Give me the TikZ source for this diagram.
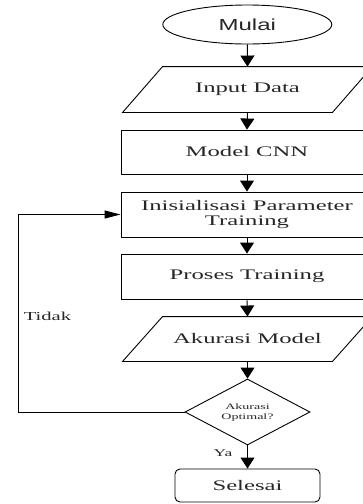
\documentclass[tikz,border=0pt]{standalone}
\usepackage{fontspec}
\setmainfont{Liberation Serif}[FakeStretch=1.69]
\newfontfamily\headsans{Liberation Sans}[FakeStretch=1.5]
\usetikzlibrary{shapes.geometric,arrows.meta}

\tikzset{
  box/.style={draw, rectangle, minimum width=252pt, minimum height=45pt,
    inner sep=0pt, align=center},
  io/.style={rectangle, minimum width=209pt, minimum height=45pt, inner sep=0pt},
  term/.style={draw, ellipse, minimum width=169pt, minimum height=39pt,
    inner sep=0pt, font=\headsans\fontsize{16}{16}\selectfont},
  decision/.style={draw, diamond, aspect=1.9, minimum width=125pt,
    minimum height=66pt, inner sep=0pt, align=center,
    font=\fontsize{8.3}{10}\selectfont},
  endbox/.style={draw, rounded corners=5pt, minimum width=145pt,
    minimum height=33pt, inner sep=0pt},
  down/.style={-{Triangle[length=11pt,width=14pt]}},
  sidearrow/.style={-{Triangle[length=16pt,width=8pt]}},
  every node/.style={text=black!85},
}

\begin{document}
\begin{tikzpicture}[x=1pt, y=-1pt, line width=0.9pt,
    font=\fontsize{14.6}{14.6}\selectfont]
  \useasboundingbox (0,0) rectangle (363,504);
  \clip (0,0) rectangle (363,504);

  % process steps
  \node[term] (start) at (247.3,24.5) {Mulai};
  \node[io] (input) at (247.5,89.5) {Input Data};
  \node[box, minimum height=44pt] (cnn) at (247,152) {Model CNN};
  \node[box] (init) at (247,214.5) {Inisialisasi Parameter\\Training};
  \node[box] (train) at (247,276.5) {Proses Training};
  \node[io, minimum height=44pt] (acc) at (247.5,339) {Akurasi Model};
  \node[decision] (opt) at (247.5,412) {Akurasi\\Optimal?};
  \node[endbox] (stop) at (247.5,485.5) {Selesai};

  % input/output parallelograms around the text nodes
  \foreach \n in {input,acc}
    \draw ([xshift=-20pt]\n.south west) -- ([xshift=20pt]\n.north west)
       -- ([xshift=20pt]\n.north east) -- ([xshift=-20pt]\n.south east) -- cycle;

  % main flow
  \draw[down] (start.south) -- (input.north);
  \draw[down] (input.south) -- (cnn.north);
  \draw[down] (cnn.south) -- (init.north);
  \draw[down] (init.south) -- (train.north);
  \draw[down] (train.south) -- (acc.north);
  \draw[down] (acc.south) -- (opt.north);
  \draw[down] (opt.south) -- (stop.north);

  % feedback loop when accuracy is not optimal
  \coordinate (bend) at (18,412);
  \draw[sidearrow] (opt.west) -- (bend) |- (init.west);

  \node[font=\fontsize{12.2}{12.2}\selectfont] (no) at (47.5,316) {Tidak};
  \node[font=\fontsize{10.3}{10.3}\selectfont] (yes) at (223,453) {Ya};
\end{tikzpicture}
\end{document}
